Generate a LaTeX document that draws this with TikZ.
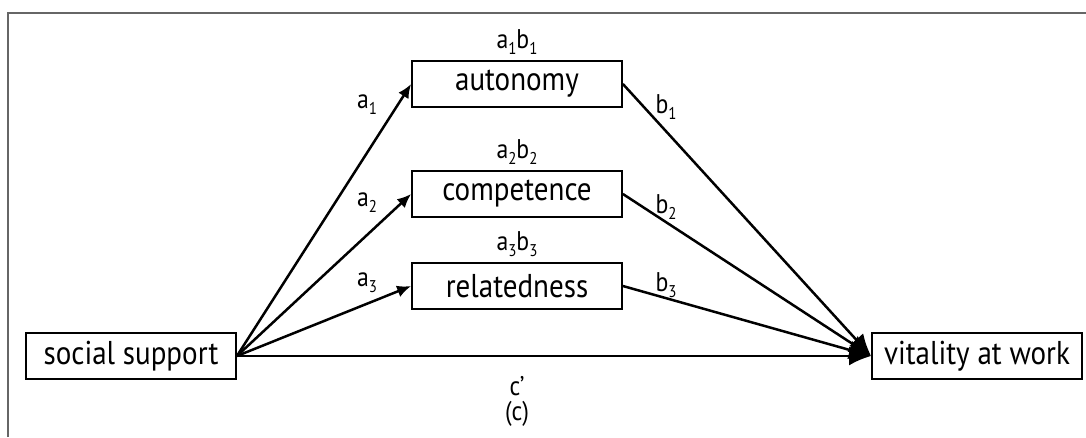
\documentclass[tikz,border=0pt]{standalone}
\usepackage{fontspec}
\setmainfont{PT Sans}[FakeStretch=0.88]
\usetikzlibrary{arrows.meta, positioning}
\newcommand{\lowsub}[1]{\raisebox{-0.45ex}{\fontsize{17}{20}\selectfont #1}}

\begin{document}
\begin{tikzpicture}[
  x=1pt, y=-1pt,
  box/.style={draw, line width=1.8pt, minimum width=210pt, minimum height=46pt,
              inner sep=0pt, font=\fontsize{33}{38}\selectfont},
  lab/.style={inner sep=0pt, font=\fontsize{27}{32}\selectfont},
  ar/.style={line width=2.5pt, -{Latex[length=14pt, width=12pt]}},
  big/.style={line width=2.5pt, -{Latex[length=22pt, width=19pt]}}
]
\useasboundingbox (0,0) rectangle (1086,437);
\draw[line width=2pt, black!60] (8,437) -- (8,13) -- (1086,13);

\node[box] (soc) at (131,356) {social support};
\node[box] (vit) at (977,356) {vitality at work};
\node[box] (aut) at (517,84) {autonomy};
\node[box] (comp) at (517,194) {competence};
\node[box] (rel) at (517,286) {relatedness};

\node[lab, above=5pt of aut] (ab1) {a\lowsub{1}b\lowsub{1}};
\node[lab, above=5pt of comp] (ab2) {a\lowsub{2}b\lowsub{2}};
\node[lab, above=5pt of rel] (ab3) {a\lowsub{3}b\lowsub{3}};

% a paths
\draw[ar] (soc.east) -- (aut.west);
\draw[ar] (soc.east) -- (comp.west);
\draw[ar] (soc.east) -- (rel.west);
\node[lab] (a1) at (367,105) {a\lowsub{1}};
\node[lab] (a2) at (367,203) {a\lowsub{2}};
\node[lab] (a3) at (367,283) {a\lowsub{3}};

% b paths
\draw[big] (aut.east) -- (vit.west);
\draw[big] (comp.east) -- (vit.west);
\draw[big] (rel.east) -- (vit.west);
\node[lab] (b1) at (666,107) {b\lowsub{1}};
\node[lab] (b2) at (666,207) {b\lowsub{2}};
\node[lab] (b3) at (666,285) {b\lowsub{3}};

% direct path
\draw[big] (soc.east) -- (vit.west);
\node[lab] (c) at (517,386) {c’};
\node[lab] (panel) at (517,414) {(c)};
\end{tikzpicture}
\end{document}
